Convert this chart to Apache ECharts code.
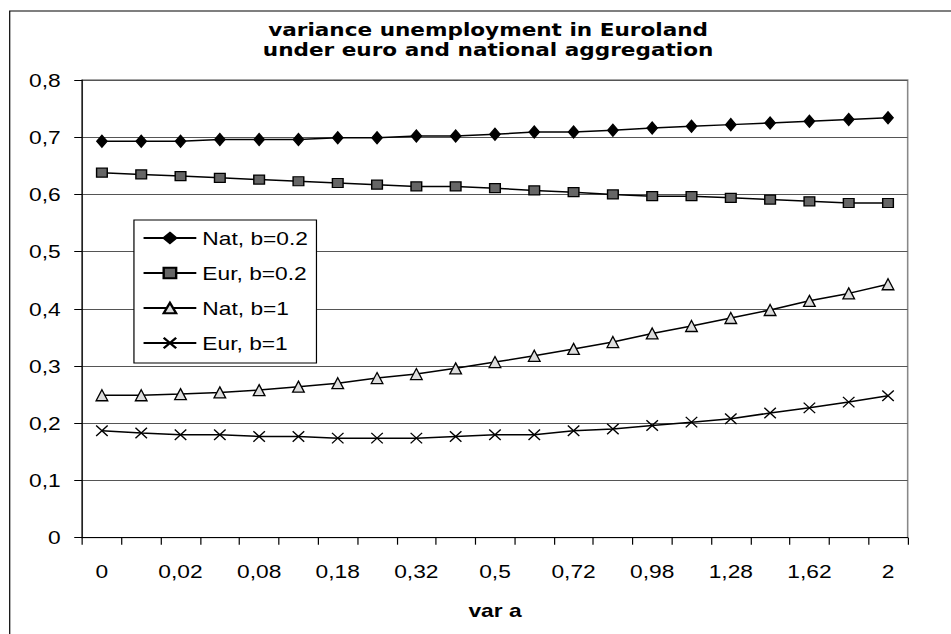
<!DOCTYPE html>
<html>
<head>
<meta charset="utf-8">
<script src="https://cdn.jsdelivr.net/npm/echarts@6/dist/echarts.min.js"></script>
<style>
  html, body { margin: 0; padding: 0; background: #fff; overflow: hidden; }
  #wrap { width: 951px; height: 634px; overflow: hidden; }
  /* chart is laid out narrower, then widened so the lettering comes out broad */
  #chart { width: 793px; height: 634px; transform: scaleX(1.1992); transform-origin: 0 0; }
</style>
</head>
<body>
<div id="wrap"><div id="chart"></div></div>
<script>
// values of var a on the category axis
const xCategories = ['0', '0,005', '0,02', '0,045', '0,08', '0,125', '0,18', '0,245', '0,32', '0,405',
  '0,5', '0,605', '0,72', '0,845', '0,98', '1,125', '1,28', '1,445', '1,62', '1,805', '2'];

const yTickLabels = ['0', '0,1', '0,2', '0,3', '0,4', '0,5', '0,6', '0,7', '0,8'];

const seriesNames = ['Nat, b=0.2', 'Eur, b=0.2', 'Nat, b=1', 'Eur, b=1'];

const natB02 = [0.693, 0.693, 0.693, 0.696, 0.696, 0.696, 0.699, 0.699, 0.702, 0.702, 0.705,
  0.709, 0.709, 0.712, 0.716, 0.719, 0.722, 0.725, 0.728, 0.731, 0.734];
const eurB02 = [0.638, 0.635, 0.632, 0.629, 0.626, 0.623, 0.620, 0.617, 0.614, 0.614, 0.611,
  0.607, 0.604, 0.600, 0.597, 0.597, 0.594, 0.591, 0.588, 0.585, 0.585];
const natB1 = [0.249, 0.249, 0.251, 0.254, 0.258, 0.264, 0.270, 0.279, 0.286, 0.296, 0.307,
  0.318, 0.330, 0.342, 0.357, 0.370, 0.384, 0.398, 0.414, 0.427, 0.443];
const eurB1 = [0.187, 0.183, 0.180, 0.180, 0.177, 0.177, 0.174, 0.174, 0.174, 0.177, 0.180,
  0.180, 0.187, 0.190, 0.196, 0.202, 0.208, 0.218, 0.227, 0.237, 0.248];

const titleLines = ['variance unemployment in Euroland', 'under euro and national aggregation'];
const xAxisName = 'var a';

const labelFont = '"Liberation Sans", Arial, sans-serif';
const crossPath = 'path://M0,0L10,10M10,0L0,10';

function lineSeries(name, data, symbol, size, fill) {
  return {
    name: name,
    type: 'line',
    data: data,
    symbol: symbol,
    symbolSize: size,
    showSymbol: true,
    smooth: false,
    lineStyle: { color: '#000', width: 1.5 },
    itemStyle: { color: fill, borderColor: '#000', borderWidth: 1.2 },
    emphasis: { disabled: true },
    z: 3
  };
}

const chart = echarts.init(document.getElementById('chart'), null, { renderer: 'svg' });

chart.setOption({
  animation: false,
  backgroundColor: '#fff',
  title: {
    text: titleLines.join('\n'),
    left: 402,
    top: 15.5,
    textAlign: 'center',
    textStyle: {
      fontFamily: '"DejaVu Sans", sans-serif',
      fontWeight: 'bold',
      fontSize: 18,
      lineHeight: 20,
      color: '#000'
    }
  },
  graphic: [{
    type: 'rect',
    left: 5.6,
    top: 8.5,
    shape: { width: 900, height: 700 },
    style: { fill: 'none', stroke: '#000', lineWidth: 1 },
    silent: true,
    z: -10
  }],
  legend: {
    data: seriesNames,
    orient: 'vertical',
    left: 111.7,
    top: 220,
    padding: [8, 7, 10, 7],
    itemWidth: 44,
    itemHeight: 13,
    itemGap: 15,
    backgroundColor: '#fff',
    borderColor: '#000',
    borderWidth: 1,
    borderRadius: 0,
    selectedMode: false,
    textStyle: { fontFamily: labelFont, fontSize: 19, lineHeight: 20, color: '#000' }
  },
  grid: {
    left: 68.6,
    right: 36.1,
    top: 80,
    bottom: 96.3,
    containLabel: false,
    show: true,
    borderColor: '#888',
    borderWidth: 1.3,
    backgroundColor: '#fff'
  },
  xAxis: {
    type: 'category',
    data: xCategories,
    boundaryGap: true,
    name: xAxisName,
    nameLocation: 'middle',
    nameGap: 63,
    nameTextStyle: { fontFamily: labelFont, fontSize: 19, fontWeight: 'bold', color: '#000' },
    axisLine: { show: true, lineStyle: { color: '#000', width: 1 } },
    axisTick: { show: true, interval: 0, length: 7, lineStyle: { color: '#000', width: 1 } },
    axisLabel: { interval: 1, margin: 24, fontFamily: labelFont, fontSize: 19, color: '#000' },
    splitLine: { show: false }
  },
  yAxis: {
    type: 'value',
    min: 0,
    max: 0.8,
    interval: 0.1,
    axisLine: { show: true, lineStyle: { color: '#000', width: 1 } },
    axisTick: { show: true, length: 6.7, lineStyle: { color: '#000', width: 1 } },
    axisLabel: {
      margin: 18,
      fontFamily: labelFont,
      fontSize: 19,
      color: '#000',
      formatter: function (v) { return yTickLabels[Math.round(v * 10)]; }
    },
    splitLine: { show: true, lineStyle: { color: '#555', width: 1 } }
  },
  series: [
    lineSeries(seriesNames[0], natB02, 'diamond', [8.6, 12], '#000'),
    lineSeries(seriesNames[1], eurB02, 'rect', [8.9, 9], '#666'),
    lineSeries(seriesNames[2], natB1, 'triangle', [9.7, 11], '#ddd'),
    lineSeries(seriesNames[3], eurB1, crossPath, [9.6, 10.5], '#000')
  ]
});
</script>
</body>
</html>
